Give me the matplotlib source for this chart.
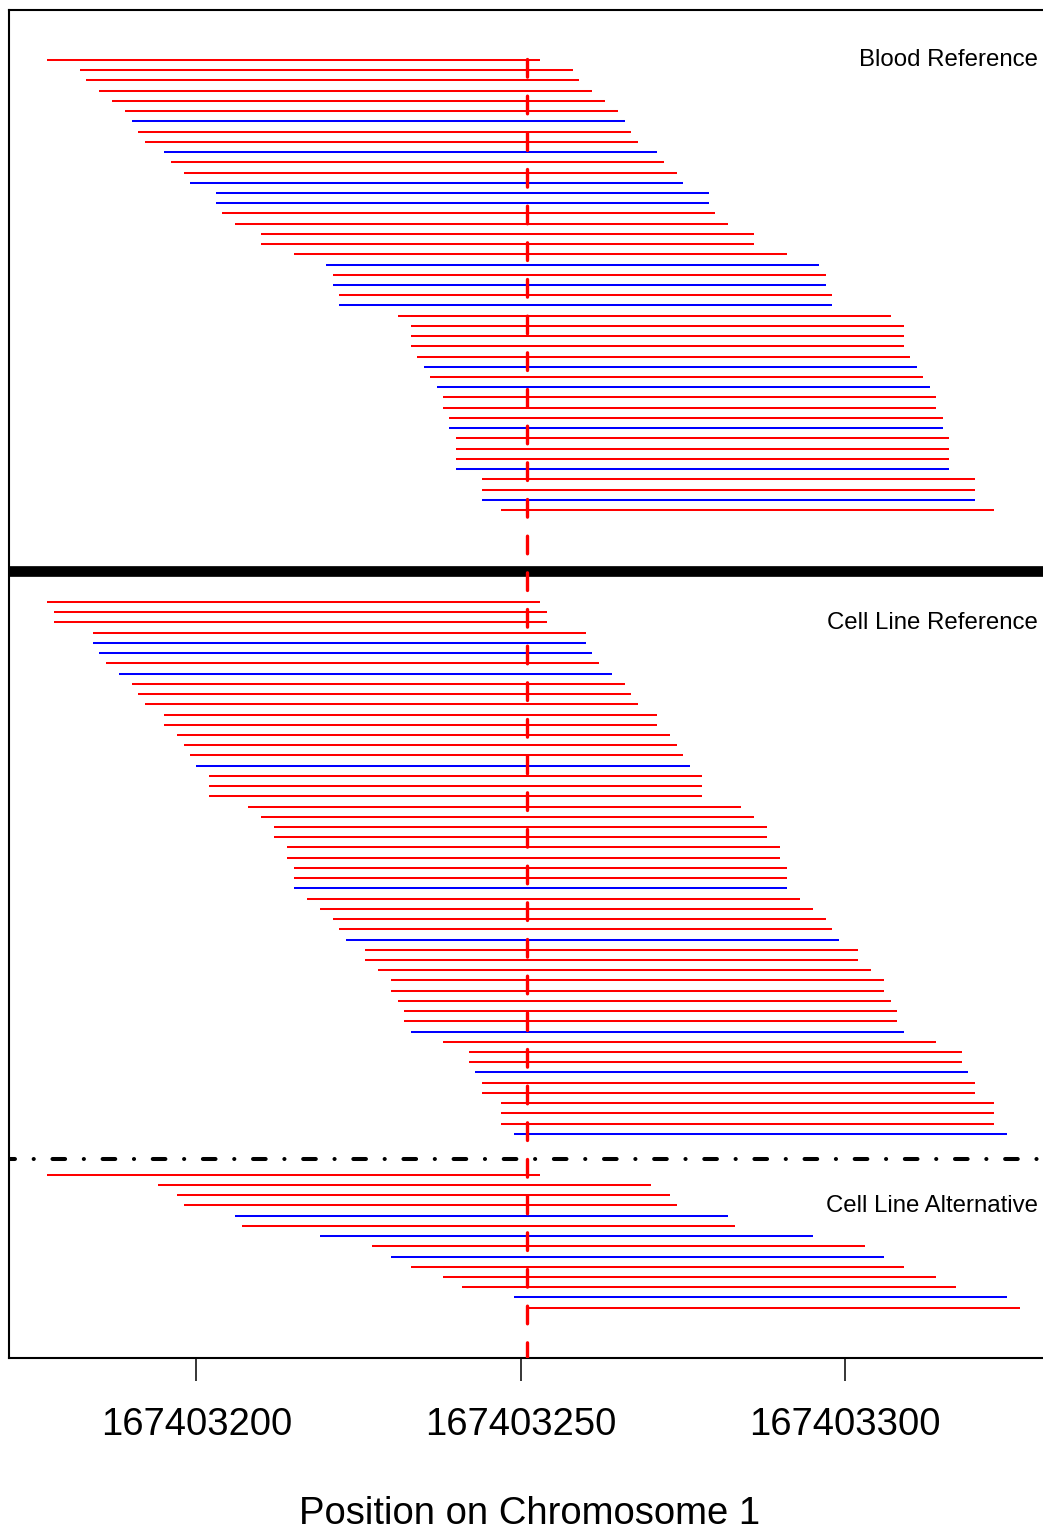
import matplotlib
matplotlib.use('Agg')
import matplotlib.pyplot as plt
import numpy as np

plt.rcParams['font.family'] = ['Liberation Sans', 'DejaVu Sans']
plt.rcParams['lines.scale_dashes'] = False

# read starts (chromosome 1) and strand colour, one entry per read, top to bottom
read_len = 76
snp_pos = 167403251

blood_starts = [167403177, 167403182, 167403183, 167403185, 167403187, 167403189, 167403190,
                167403191, 167403192, 167403195, 167403196, 167403198, 167403199, 167403203,
                167403203, 167403204, 167403206, 167403210, 167403210, 167403215, 167403220,
                167403221, 167403221, 167403222, 167403222, 167403231, 167403233, 167403233,
                167403233, 167403234, 167403235, 167403236, 167403237, 167403238, 167403238,
                167403239, 167403239, 167403240, 167403240, 167403240, 167403240, 167403244,
                167403244, 167403244, 167403247]
blood_cols = ['red'] * 6 + ['blue', 'red', 'red', 'blue', 'red', 'red', 'blue', 'blue', 'blue'] \
    + ['red'] * 5 + ['blue', 'red', 'blue', 'red', 'blue'] + ['red'] * 5 \
    + ['blue', 'red', 'blue', 'red', 'red', 'red', 'blue', 'red', 'red', 'red', 'blue',
       'red', 'red', 'blue', 'red']

cellref_starts = [167403177, 167403178, 167403178, 167403184, 167403184, 167403185, 167403186,
                  167403188, 167403190, 167403191, 167403192, 167403195, 167403195, 167403197,
                  167403198, 167403199, 167403200, 167403202, 167403202, 167403202, 167403208,
                  167403210, 167403212, 167403212, 167403214, 167403214, 167403215, 167403215,
                  167403215, 167403217, 167403219, 167403221, 167403222, 167403223, 167403226,
                  167403226, 167403228, 167403230, 167403230, 167403231, 167403232, 167403232,
                  167403233, 167403238, 167403242, 167403242, 167403243, 167403244, 167403244,
                  167403247, 167403247, 167403247, 167403249]
cellref_cols = ['red'] * 4 + ['blue', 'blue', 'red', 'blue'] + ['red'] * 8 + ['blue'] \
    + ['red'] * 11 + ['blue'] + ['red'] * 4 + ['blue'] + ['red'] * 8 + ['blue'] \
    + ['red'] * 3 + ['blue'] + ['red'] * 5 + ['blue']

cellalt_starts = [167403177, 167403194, 167403197, 167403198, 167403206, 167403207, 167403219,
                  167403227, 167403230, 167403233, 167403238, 167403241, 167403249, 167403251]
cellalt_cols = ['red', 'red', 'red', 'red', 'blue', 'red', 'blue', 'red', 'blue', 'red',
                'red', 'red', 'blue', 'red']

xticks = [167403200, 167403250, 167403300]

# row positions (one unit per read)
blood_y = np.arange(1, 1 + len(blood_starts))
cellref_y = np.arange(54, 54 + len(cellref_starts))
cellalt_y = np.arange(110, 110 + len(cellalt_starts))

fig = plt.figure(figsize=(10.43, 15.31), dpi=100)
ax = fig.add_axes([9 / 1043, 173 / 1531, 1037 / 1043, 1348 / 1531])

for ys, st, cs in [(blood_y, blood_starts, blood_cols),
                   (cellref_y, cellref_starts, cellref_cols),
                   (cellalt_y, cellalt_starts, cellalt_cols)]:
    st = np.array(st)
    ax.hlines(ys, st, st + read_len, colors=cs, lw=1.45, zorder=2)

x0, x1 = 167403171.1, 167403330.95
ax.set_xlim(x0, x1)
ax.set_ylim(127.92, -3.89)

# separators
ax.plot([x0, x1], [51, 51], color='black', lw=7.7, solid_capstyle='butt', zorder=3)
ax.plot([x0, x1], [108.5, 108.5], color='black', lw=2.9,
        linestyle=(4.8, (9.1, 13.45, 0.1, 13.45)), dash_capstyle='round', zorder=3)

# SNP position
ax.plot([snp_pos, snp_pos], [0.86, 128], color='red', lw=2.4,
        linestyle=(0, (12.7, 13.7)), dash_capstyle='round', zorder=4)

lab_x = 167403329.7
ax.text(lab_x, 1.59, 'Blood Reference', ha='right', va='baseline', fontsize=17.3)
ax.text(lab_x, 56.67, 'Cell Line Reference', ha='right', va='baseline', fontsize=17.3)
ax.text(lab_x, 113.67, 'Cell Line Alternative', ha='right', va='baseline', fontsize=17.3)

ax.set_xticks(xticks)
ax.set_xticklabels([str(v) for v in xticks])
ax.tick_params(axis='x', direction='out', length=16.6, width=1.1, pad=19, labelsize=27.5)
ax.tick_params(axis='y', left=False, labelleft=False)
for s in ax.spines.values():
    s.set_linewidth(1.5)

fig.text(530 / 1043, 7 / 1531, 'Position on Chromosome 1', ha='center', va='baseline',
         fontsize=27.5)

fig.savefig('out.png', dpi=100)
